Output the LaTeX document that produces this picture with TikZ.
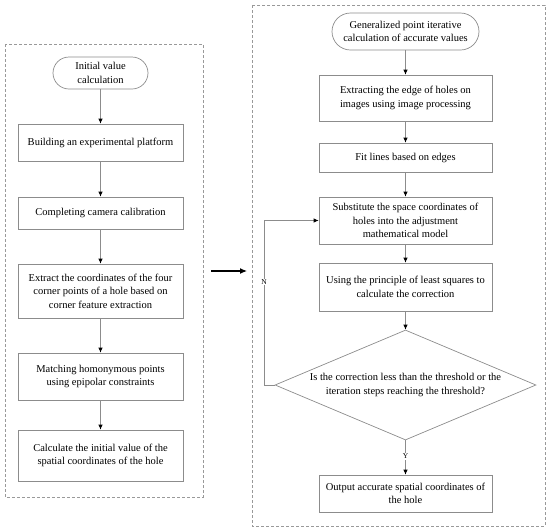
\documentclass[tikz,border=0pt]{standalone}
\usepackage{fontspec}
\setmainfont{Liberation Serif}
\usetikzlibrary{shapes.geometric,arrows.meta}
\begin{document}
\begin{tikzpicture}[x=1pt,y=-1pt,
  every node/.style={font=\fontsize{10.5}{13.5}\selectfont, align=center, inner sep=0pt},
  boxL/.style={draw=gray!90, line width=0.7pt, minimum width=165pt},
  boxR/.style={draw=gray!90, line width=0.7pt, minimum width=173pt},
  term/.style={draw=gray!90, line width=0.7pt, rounded corners=#1},
  frame/.style={draw=gray!80, line width=0.7pt, dash pattern=on 3pt off 2pt},
  arr/.style={draw=gray!90, line width=0.7pt, -{Latex[black,length=5pt,width=4.5pt]}},
  lbl/.style={font=\fontsize{7.5}{9}\selectfont, fill=white, inner sep=1pt}]
\useasboundingbox (0,0) rectangle (550,531);
% frames
\draw[frame] (5,44) rectangle (203,497);
\draw[frame] (252,5) rectangle (545,526);
% left column
\node[term=16pt, minimum width=95pt, minimum height=32pt] (t1) at (100.5,73) {Initial value\\calculation};
\node[boxL, minimum height=37pt] (l1) at (100.5,142.5) {Building an experimental platform};
\node[boxL, minimum height=32pt] (l2) at (100.5,213) {Completing camera calibration};
\node[boxL, minimum height=54pt] (l3) at (100.5,291) {Extract the coordinates of the four\\corner points of a hole based on\\corner feature extraction};
\node[boxL, minimum height=47pt] (l4) at (100.5,376.5) {Matching homonymous points\\using epipolar constraints};
\node[boxL, minimum height=51pt] (l5) at (100.5,455.5) {Calculate the initial value of the\\spatial coordinates of the hole};
\draw[arr] (t1) -- (l1);
\draw[arr] (l1) -- (l2);
\draw[arr] (l2) -- (l3);
\draw[arr] (l3) -- (l4);
\draw[arr] (l4) -- (l5);
% link arrow
\coordinate (ma) at (211,271);
\coordinate (mb) at (247,271);
\draw[line width=1.1pt, -{Latex[length=7pt,width=6pt]}] (ma) -- (mb);
% right column
\node[term=18.5pt, minimum width=147pt, minimum height=37pt] (t2) at (405.5,31.5) {Generalized point iterative\\calculation of accurate values};
\node[boxR, minimum height=46pt] (r1) at (405.5,98) {Extracting the edge of holes on\\images using image processing};
\node[boxR, minimum height=29pt] (r2) at (405.5,157.5) {Fit lines based on edges};
\node[boxR, minimum height=47pt] (r3) at (405.5,220.5) {Substitute the space coordinates of\\holes into the adjustment\\mathematical model};
\node[boxR, minimum height=48pt] (r4) at (405.5,287) {Using the principle of least squares to\\calculate the correction};
\node[diamond, draw=gray!90, line width=0.7pt, minimum width=261pt, minimum height=110pt] (d) at (405.5,385) {};
\node (dt) at (d.center) {Is the correction less than the threshold or the\\iteration steps reaching the threshold?};
\node[boxR, minimum height=37pt] (r5) at (405.5,493.5) {Output accurate spatial coordinates of\\the hole};
\draw[arr] (t2) -- (r1);
\draw[arr] (r1) -- (r2);
\draw[arr] (r2) -- (r3);
\draw[arr] (r3) -- (r4);
\draw[arr] (r4) -- (d.north);
\draw[arr] (d.south) -- node[lbl, pos=0.47] (y) {Y} (r5);
\coordinate (fb) at (264,385);
\draw[arr] (d.west) -- (fb) |- (r3.west);
\node[lbl] (n) at (264,282) {N};
\end{tikzpicture}
\end{document}
